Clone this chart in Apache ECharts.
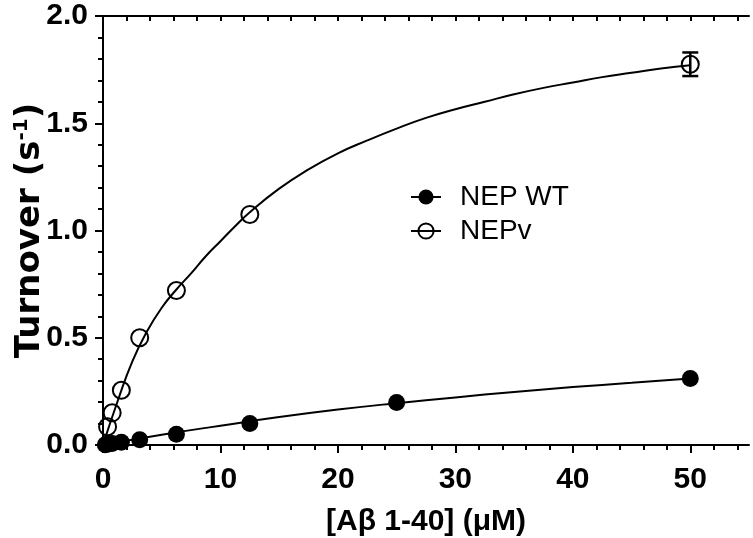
<!DOCTYPE html>
<html><head><meta charset="utf-8">
<script src="https://cdn.jsdelivr.net/npm/echarts@6/dist/echarts.min.js"></script>
<style>html,body{margin:0;padding:0;background:#fff}#c{width:753px;height:538px}</style>
</head><body><div id="c"></div>
<script>
// Data
const wtSubstrate = [0.195, 0.39, 0.78, 1.5625, 3.125, 6.25, 12.5, 25, 50];
const wtTurnover = [0.001, 0.003, 0.007, 0.013, 0.025, 0.05, 0.10, 0.198, 0.31];
const vSubstrate = [0.39, 0.78, 1.5625, 3.125, 6.25, 12.5, 50];
const vTurnover = [0.085, 0.15, 0.255, 0.50, 0.72, 1.075, 1.775];
const vErrX = [50];
const vErrLow = [1.72];
const vErrHigh = [1.83];
// fitted curves, sampled by eye along the drawn lines
const wtFitX = [0, 5, 10, 15, 20, 25, 30, 35, 40, 45, 50];
const wtFitY = [0, 0.048, 0.09, 0.13, 0.165, 0.195, 0.222, 0.247, 0.27, 0.29, 0.31];
const vFitX = [0, 1.25, 2.5, 3.75, 5, 6.25, 7.5, 8.75, 10, 11.25, 12.5, 15, 17.5, 20, 22.5, 25, 27.5, 30, 32.5, 35, 37.5, 40, 42.5, 45, 47.5, 50];
const vFitY = [0, 0.205, 0.39, 0.53, 0.64, 0.725, 0.80, 0.88, 0.95, 1.02, 1.085, 1.195, 1.285, 1.36, 1.42, 1.475, 1.525, 1.565, 1.60, 1.635, 1.665, 1.69, 1.715, 1.735, 1.755, 1.77];
const xMajorTicks = [0, 10, 20, 30, 40, 50];
const xMinorTicks = [2, 4, 6, 8, 12, 14, 16, 18, 22, 24, 26, 28, 32, 34, 36, 38, 42, 44, 46, 48, 52, 54];
const xAllTicks = [2, 4, 6, 8, 10, 12, 14, 16, 18, 20, 22, 24, 26, 28, 30, 32, 34, 36, 38, 40, 42, 44, 46, 48, 50, 52, 54];
const yAllTicks = [0.1, 0.2, 0.3, 0.4, 0.5, 0.6, 0.7, 0.8, 0.9, 1.0, 1.1, 1.2, 1.3, 1.4, 1.5, 1.6, 1.7, 1.8, 1.9];
const seriesNames = ['NEP WT', 'NEPv'];
const xTitle = '[A\u03b2 1-40] (\u03bcM)';

const FONT = 'Liberation Sans, Arial, sans-serif';
const pairs = (xs, ys) => xs.map((x, i) => [x, ys[i]]);

const chart = echarts.init(document.getElementById('c'), null, {renderer: 'canvas'});
const axisLine = {show: true, lineStyle: {color: '#000', width: 2}};
chart.setOption({
  animation: false,
  backgroundColor: '#fff',
  grid: {left: 103, right: 4, top: 16, bottom: 93, containLabel: false, outerBoundsMode: 'none'},
  legend: {
    orient: 'vertical', left: 410, top: 183, padding: 0,
    itemWidth: 30, itemHeight: 19, itemGap: 6,
    selectedMode: false,
    textStyle: {fontSize: 28, lineHeight: 28, fontFamily: FONT, color: '#000', padding: [0, 0, 0, 14]},
    lineStyle: {width: 2, color: '#000', opacity: 1},
    data: [
      {name: seriesNames[0], itemStyle: {color: '#000', borderWidth: 0}},
      {name: seriesNames[1], itemStyle: {color: 'rgba(0,0,0,0)', borderColor: '#000', borderWidth: 2}}
    ]
  },
  xAxis: [
    {
      type: 'value', min: 0, max: 55, position: 'bottom',
      name: xTitle, nameLocation: 'middle', nameGap: 62, nameMoveOverlap: false,
      nameTextStyle: {fontSize: 30, fontWeight: 'bold', fontFamily: FONT, color: '#000'},
      axisLine: axisLine,
      axisTick: {show: true, customValues: xMajorTicks, length: 8, lineStyle: {color: '#000', width: 2}},
      axisLabel: {customValues: xMajorTicks, margin: 20, fontSize: 30, fontWeight: 'bold', fontFamily: FONT, color: '#000'},
      splitLine: {show: false}
    },
    {
      type: 'value', min: 0, max: 55, position: 'bottom',
      axisLine: {show: false},
      axisTick: {show: true, customValues: xMinorTicks, length: 5, lineStyle: {color: '#000', width: 2}},
      axisLabel: {show: false}, splitLine: {show: false}
    },
    {
      type: 'value', min: 0, max: 55, position: 'top',
      axisLine: axisLine,
      axisTick: {show: true, inside: true, customValues: xAllTicks, length: 5, lineStyle: {color: '#000', width: 2}},
      axisLabel: {show: false}, splitLine: {show: false}
    }
  ],
  yAxis: [
    {
      type: 'value', min: 0, max: 2, interval: 0.5, position: 'left',
      name: '{a|Turnover (s}{s|-1}{a|)}', nameLocation: 'middle', nameGap: 55, nameRotate: 90, nameMoveOverlap: false,
      nameTextStyle: {rich: {
        a: {fontSize: 34, fontWeight: 'bold', fontFamily: 'DejaVu Sans', color: '#000', lineHeight: 36},
        s: {fontSize: 20, fontWeight: 'bold', fontFamily: 'DejaVu Sans', color: '#000', verticalAlign: 'top', lineHeight: 36}
      }},
      axisLine: axisLine,
      axisTick: {show: true, length: 8, lineStyle: {color: '#000', width: 2}},
      minorTick: {show: true, splitNumber: 5, length: 5, lineStyle: {color: '#000', width: 2}},
      axisLabel: {margin: 15, fontSize: 30, fontWeight: 'bold', fontFamily: FONT, color: '#000',
        formatter: v => v.toFixed(1)},
      splitLine: {show: false}, minorSplitLine: {show: false}
    },
    {
      type: 'value', min: 0, max: 2, position: 'right',
      axisLine: axisLine,
      axisTick: {show: true, inside: true, customValues: yAllTicks, length: 5, lineStyle: {color: '#000', width: 2}},
      axisLabel: {show: false}, splitLine: {show: false}
    }
  ],
  series: [
    {
      name: 'wtFit', type: 'line', smooth: 0.5, showSymbol: false, silent: true, clip: false,
      data: pairs(wtFitX, wtFitY), lineStyle: {color: '#000', width: 2}, z: 2
    },
    {
      name: 'vFit', type: 'line', smooth: 0.5, showSymbol: false, silent: true, clip: false,
      data: pairs(vFitX, vFitY), lineStyle: {color: '#000', width: 2}, z: 2
    },
    {
      name: seriesNames[0], type: 'line', clip: false, symbol: 'circle', symbolSize: 17,
      data: pairs(wtSubstrate, wtTurnover),
      itemStyle: {color: '#000'}, lineStyle: {width: 0, opacity: 0}, z: 3,
      emphasis: {disabled: true}
    },
    {
      name: seriesNames[1], type: 'line', clip: false, symbol: 'circle', symbolSize: 17,
      data: pairs(vSubstrate, vTurnover),
      itemStyle: {color: 'rgba(0,0,0,0)', borderColor: '#000', borderWidth: 2}, lineStyle: {width: 0, opacity: 0}, z: 4,
      emphasis: {disabled: true}
    },
    {
      name: 'vErr', type: 'custom', silent: true, clip: false, z: 4,
      data: vErrX.map((x, i) => [x, vErrLow[i], vErrHigh[i]]),
      renderItem: (params, api) => {
        const lo = api.coord([api.value(0), api.value(1)]);
        const hi = api.coord([api.value(0), api.value(2)]);
        const w = 8;
        const st = {stroke: '#000', lineWidth: 2.5, fill: null};
        return {type: 'group', children: [
          {type: 'line', shape: {x1: hi[0], y1: hi[1], x2: lo[0], y2: lo[1]}, style: st},
          {type: 'line', shape: {x1: hi[0] - w, y1: hi[1], x2: hi[0] + w, y2: hi[1]}, style: st},
          {type: 'line', shape: {x1: lo[0] - w, y1: lo[1], x2: lo[0] + w, y2: lo[1]}, style: st}
        ]};
      }
    }
  ]
});
</script></body></html>
